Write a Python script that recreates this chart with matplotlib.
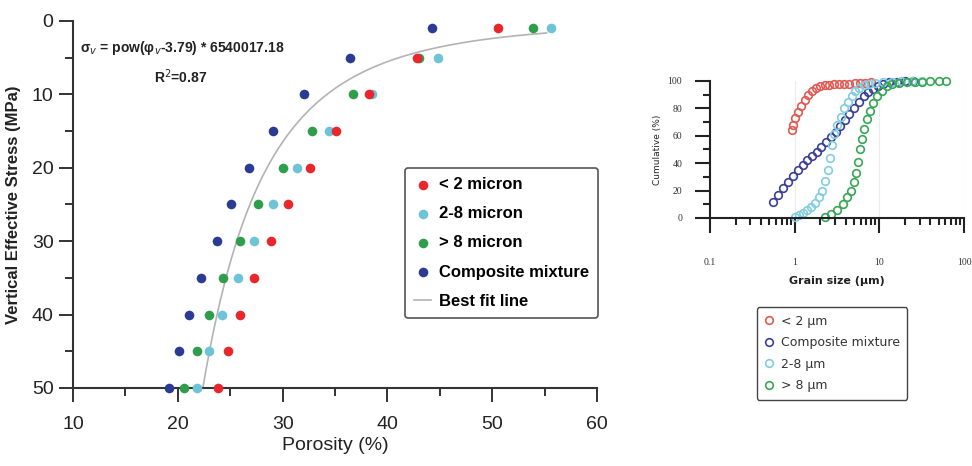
import numpy as np
import matplotlib.pyplot as plt

plt.rcParams["font.family"] = ["Liberation Sans", "DejaVu Sans"]

# ---- left panel: porosity vs vertical effective stress ----
stress = [1, 5, 10, 15, 20, 25, 30, 35, 40, 45, 50]
por_lt2 = [50.6, 42.8, 38.2, 35.1, 32.6, 30.5, 28.9, 27.3, 25.9, 24.8, 23.8]
por_2_8 = [55.6, 44.8, 38.5, 34.4, 31.4, 29.1, 27.3, 25.7, 24.2, 23.0, 21.8]
por_gt8 = [53.9, 43.0, 36.7, 32.8, 30.0, 27.7, 25.9, 24.3, 23.0, 21.8, 20.6]
por_mix = [44.3, 36.4, 32.0, 29.1, 26.8, 25.1, 23.7, 22.2, 21.1, 20.1, 19.2]

# best fit from the equation printed on the chart
FIT_COEF = 6540017.18
FIT_EXP = -3.79
FIT_PHI_MIN = 22.39
FIT_PHI_MAX = 55.2

# ---- right panel: grain size distributions ----
red_size = [0.93, 0.96, 1.02, 1.1, 1.2, 1.32, 1.45, 1.6, 1.78, 2.0, 2.25, 2.55,
            2.9, 3.3, 3.8, 4.4, 5.1, 5.9, 6.8, 7.9]
red_cum = [64, 68, 73, 77.5, 82, 86, 89.5, 92.5, 95, 96.5, 97, 97.2,
           97.5, 97.8, 98, 98, 98.2, 98.5, 98.7, 99]

mix_size = [0.55, 0.63, 0.72, 0.83, 0.95, 1.08, 1.24, 1.4, 1.6, 1.82, 2.07, 2.36,
            2.7, 3.05, 3.45, 3.9, 4.4, 5.0, 5.7, 6.5, 7.4, 8.4, 9.6, 11, 13, 16, 20, 25]
mix_cum = [12, 17, 22, 26, 31, 35, 39, 42, 45, 48.5, 52, 55.5,
           59, 63, 67, 71.5, 76, 80.5, 85, 89, 92, 94.5, 96.5, 98, 99, 99.5, 100, 100]

cyan_size = [1.0, 1.12, 1.25, 1.4, 1.57, 1.75, 1.95, 2.12, 2.3, 2.45, 2.6, 2.75,
             2.95, 3.2, 3.5, 3.85, 4.25, 4.7, 5.2, 5.8, 6.6, 7.6, 9, 11, 14, 18, 24, 32]
cyan_cum = [1, 2, 3.5, 5.5, 8, 11, 15, 20, 27, 35, 44, 53,
            61, 68, 74, 80, 85, 89, 92.5, 95, 97, 98, 98.8, 99.3, 99.6, 99.8, 100, 100]

green_size = [2.3, 2.7, 3.2, 3.7, 4.2, 4.6, 5.0, 5.3, 5.6, 5.9, 6.2, 6.6, 7.1,
              7.7, 8.5, 9.5, 10.8, 12.3, 14.2, 17, 21, 26, 32, 40, 50, 62]
green_cum = [1, 3, 6, 10, 15, 20, 26, 33, 41, 50, 58, 65, 72,
             78, 84, 89, 93, 96, 97.5, 98.5, 99, 99.3, 99.5, 99.7, 99.9, 100]

RED = "#e8262b"
CYAN = "#6cc4d6"
GREEN = "#2f9e4c"
BLUE = "#2b3a92"
AXC = "#333333"

fig = plt.figure(figsize=(9.72, 4.66), dpi=100)

# left axes
ax1 = fig.add_axes([0.0751, 0.1674, 0.5391, 0.7876])
phi = np.linspace(FIT_PHI_MIN, FIT_PHI_MAX, 300)
ax1.plot(phi, FIT_COEF * phi ** FIT_EXP, color="#b3b3b3", lw=1.2, zorder=2,
         label="Best fit line")
ms = 48
ax1.scatter(por_mix, stress, s=ms, color=BLUE, lw=0, zorder=3, clip_on=False)
ax1.scatter(por_gt8, stress, s=ms, color=GREEN, lw=0, zorder=3, clip_on=False)
ax1.scatter(por_2_8, stress, s=ms, color=CYAN, lw=0, zorder=3, clip_on=False)
ax1.scatter(por_lt2, stress, s=ms, color=RED, lw=0, zorder=3, clip_on=False)

ax1.set_xlim(10, 60)
ax1.set_ylim(50, 0)
ax1.set_xticks(range(10, 61, 10))
ax1.set_xticks(range(15, 60, 10), minor=True)
ax1.set_yticks(range(0, 51, 10))
ax1.set_yticks(range(5, 50, 10), minor=True)
for s in ["top", "right"]:
    ax1.spines[s].set_visible(False)
for s in ["left", "bottom"]:
    ax1.spines[s].set_color(AXC)
    ax1.spines[s].set_linewidth(1.5)
ax1.tick_params(which="major", length=10, width=1.4, color=AXC, labelsize=14,
                labelcolor="#222222", pad=4)
ax1.tick_params(axis="x", which="major", pad=10)
ax1.tick_params(which="minor", length=5.5, width=1.4, color=AXC)
ax1.set_xlabel("Porosity (%)", fontsize=14, color="#222222", labelpad=3)
ax1.set_ylabel("Vertical Effective Stress (MPa)", fontsize=12, fontweight="bold",
               color="#222222", labelpad=8)

fig.text(0.0823, 0.897, r"σ$_v$ = pow(φ$_v$-3.79) * 6540017.18", fontsize=10,
         fontweight="bold", ha="left", va="center", color="#222222")
fig.text(0.186, 0.835, r"R$^2$=0.87", fontsize=10, fontweight="bold",
         ha="center", va="center", color="#222222")

h_lt2 = ax1.scatter([], [], s=ms, color=RED, lw=0)
h_28 = ax1.scatter([], [], s=ms, color=CYAN, lw=0)
h_gt8 = ax1.scatter([], [], s=ms, color=GREEN, lw=0)
h_mix = ax1.scatter([], [], s=ms, color=BLUE, lw=0)
h_fit = ax1.get_lines()[0]
leg1 = ax1.legend([h_lt2, h_28, h_gt8, h_mix, h_fit],
                  ["< 2 micron", "2-8 micron", "> 8 micron", "Composite mixture",
                   "Best fit line"],
                  loc="upper left", bbox_to_anchor=(0.4167, 0.6395),
                  bbox_transform=fig.transFigure, borderaxespad=0,
                  prop={"size": 12, "weight": "bold"}, handlelength=1.0,
                  handletextpad=0.5, labelspacing=0.85, borderpad=0.55,
                  fancybox=True, framealpha=1, edgecolor="#555555", scatterpoints=1)
leg1.get_frame().set_linewidth(1.2)

# right axes
ax2 = fig.add_axes([0.7305, 0.5322, 0.2613, 0.294])
ax2.set_xscale("log")
mk = dict(ls="none", marker="o", mfc="none", ms=5.5, mew=1.2, clip_on=False)
ax2.plot(red_size, red_cum, mec="#e05a52", label="< 2 µm", **mk)
ax2.plot(mix_size, mix_cum, mec="#3b3f95", label="Composite mixture", **mk)
ax2.plot(cyan_size, cyan_cum, mec="#82cde0", label="2-8 µm", **mk)
ax2.plot(green_size, green_cum, mec="#38a654", label="> 8 µm", **mk)
ax2.set_xlim(0.1, 100)
ax2.set_ylim(0, 100)
ax2.set_xticks([0.1, 1, 10, 100])
ax2.set_xticklabels(["0.1", "1", "10", "100"])
ax2.set_xticks([m * d for d in [0.1, 1, 10] for m in range(2, 10)], minor=True)
ax2.set_xticklabels([], minor=True)
ax2.set_yticks(range(0, 101, 20))
ax2.set_yticks(range(10, 100, 20), minor=True)
for x in [1, 10, 100]:
    ax2.axvline(x, color="#ececec", lw=0.8, zorder=0)
for s in ["top", "right"]:
    ax2.spines[s].set_visible(False)
for s in ["left", "bottom"]:
    ax2.spines[s].set_color("#222222")
    ax2.spines[s].set_linewidth(1.5)
ax2.tick_params(which="major", length=11, width=1.5, color="#222222")
ax2.tick_params(which="minor", length=5, width=1.5, color="#222222")
ax2.tick_params(axis="x", which="major", pad=18)
ax2.tick_params(axis="y", which="major", pad=9)
for lab in ax2.get_xticklabels() + ax2.get_yticklabels():
    lab.set_family("Liberation Serif")
    lab.set_fontsize(7)
    lab.set_color("#333333")
ax2.set_xlabel("Grain size (µm)", fontsize=8, fontweight="bold",
               family="DejaVu Sans", color="#222222", labelpad=6)
ax2.set_ylabel("Cumulative (%)", fontsize=6.5, family="DejaVu Sans",
               color="#222222", labelpad=4)

leg2 = ax2.legend(loc="upper left", bbox_to_anchor=(0.7788, 0.3412),
                  bbox_transform=fig.transFigure, borderaxespad=0,
                  prop={"family": "DejaVu Sans", "size": 9}, handlelength=0.8,
                  handletextpad=0.5, labelspacing=0.68, borderpad=0.6,
                  fancybox=True, framealpha=1, edgecolor="#444444", numpoints=1)
leg2.get_frame().set_linewidth(1.0)
for t in leg2.get_texts():
    t.set_color("#333333")

fig.savefig("out.png", dpi=100)
